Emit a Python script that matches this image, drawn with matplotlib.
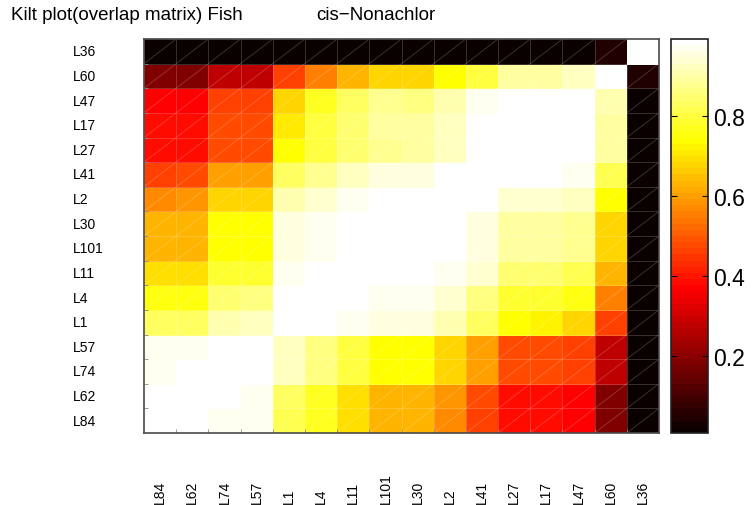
import numpy as np
import matplotlib
matplotlib.use("Agg")
import matplotlib.pyplot as plt
from matplotlib.colors import ListedColormap
from matplotlib.collections import LineCollection

plt.rcParams['font.family'] = ['Liberation Sans', 'DejaVu Sans']

# labels in order: left->right on x, bottom->top on y
labels = ["L84", "L62", "L74", "L57", "L1", "L4", "L11", "L101",
          "L30", "L2", "L41", "L27", "L17", "L47", "L60", "L36"]

# overlap matrix; row k is the row of label k (drawn bottom->top), columns follow labels
overlap = [
    [1.00, 1.00, 0.97, 0.97, 0.815, 0.77, 0.70, 0.635, 0.635, 0.57, 0.46, 0.39, 0.39, 0.367, 0.184, 0.01],  # L84
    [1.00, 1.00, 1.00, 0.97, 0.832, 0.77, 0.70, 0.635, 0.635, 0.58, 0.47, 0.39, 0.39, 0.367, 0.184, 0.01],  # L62
    [0.97, 1.00, 1.00, 1.00, 0.925, 0.863, 0.80, 0.745, 0.745, 0.68, 0.60, 0.48, 0.48, 0.46, 0.275, 0.01],  # L74
    [0.97, 0.97, 1.00, 1.00, 0.925, 0.863, 0.80, 0.745, 0.745, 0.68, 0.60, 0.48, 0.48, 0.46, 0.275, 0.01],  # L57
    [0.832, 0.832, 0.91, 0.925, 1.00, 1.00, 0.97, 0.955, 0.955, 0.91, 0.832, 0.745, 0.725, 0.68, 0.46, 0.01],  # L1
    [0.76, 0.76, 0.848, 0.863, 1.00, 1.00, 1.00, 0.97, 0.97, 0.94, 0.863, 0.78, 0.78, 0.76, 0.556, 0.01],  # L4
    [0.70, 0.70, 0.78, 0.78, 0.97, 1.00, 1.00, 1.00, 1.00, 0.97, 0.94, 0.848, 0.848, 0.82, 0.625, 0.01],  # L11
    [0.625, 0.625, 0.745, 0.745, 0.955, 0.97, 1.00, 1.00, 1.00, 1.00, 0.96, 0.894, 0.894, 0.879, 0.68, 0.01],  # L101
    [0.635, 0.635, 0.745, 0.745, 0.955, 0.97, 1.00, 1.00, 1.00, 1.00, 0.96, 0.90, 0.90, 0.879, 0.68, 0.01],  # L30
    [0.57, 0.58, 0.68, 0.68, 0.91, 0.94, 0.97, 1.00, 1.00, 1.00, 1.00, 0.94, 0.94, 0.925, 0.745, 0.01],  # L2
    [0.46, 0.47, 0.60, 0.60, 0.832, 0.879, 0.925, 0.955, 0.955, 1.00, 1.00, 1.00, 1.00, 0.97, 0.815, 0.01],  # L41
    [0.383, 0.383, 0.48, 0.48, 0.745, 0.80, 0.848, 0.879, 0.90, 0.93, 1.00, 1.00, 1.00, 1.00, 0.894, 0.01],  # L27
    [0.39, 0.39, 0.48, 0.48, 0.71, 0.80, 0.848, 0.894, 0.894, 0.925, 1.00, 1.00, 1.00, 1.00, 0.894, 0.01],  # L17
    [0.367, 0.367, 0.46, 0.46, 0.68, 0.77, 0.832, 0.879, 0.87, 0.91, 0.97, 1.00, 1.00, 1.00, 0.91, 0.01],  # L47
    [0.184, 0.184, 0.275, 0.275, 0.46, 0.556, 0.625, 0.68, 0.68, 0.745, 0.80, 0.894, 0.894, 0.925, 1.00, 0.046],  # L60
    [0.01, 0.01, 0.01, 0.01, 0.01, 0.01, 0.01, 0.01, 0.01, 0.01, 0.01, 0.01, 0.01, 0.01, 0.046, 1.00],  # L36
]

cbar_ticks = [0.2, 0.4, 0.6, 0.8]
title_left = "Kilt plot(overlap matrix) Fish"
title_right = "cis\u2212Nonachlor"

# MATLAB-style hot(64)
n = 64
n1 = 24
r = np.concatenate([np.arange(1, n1 + 1) / n1, np.ones(n - n1)])
g = np.concatenate([np.zeros(n1), np.arange(1, n1 + 1) / n1, np.ones(n - 2 * n1)])
b = np.concatenate([np.zeros(2 * n1), np.arange(1, n - 2 * n1 + 1) / (n - 2 * n1)])
hot64 = ListedColormap(np.column_stack([r, g, b]))

W, H = 754, 506
fig = plt.figure(figsize=(W / 100, H / 100), dpi=100)
ax = fig.add_axes([144 / W, 1 - 434 / H, 515 / W, 394 / H])
cax = fig.add_axes([671 / W, 1 - 434 / H, 37 / W, 394 / H])

M = np.array(overlap)
nr = len(labels)
mesh = ax.pcolormesh(np.arange(nr + 1), np.arange(nr + 1), M, cmap=hot64,
                     vmin=0.0065, vmax=0.994,
                     edgecolors=(1, 1, 1, 0.18), linewidth=0.6)

# faint diagonal lines through each cell (MATLAB rendering look)
segs = [[(j, i), (j + 1, i + 1)] for i in range(nr) for j in range(nr)]
ax.add_collection(LineCollection(segs, colors=[(1, 1, 1, 0.22)], linewidths=0.6))

ax.set_xlim(0, nr)
ax.set_ylim(0, nr)
ax.set_xticks(np.arange(1, nr))
ax.set_yticks(np.arange(1, nr))
ax.set_xticklabels([])
ax.set_yticklabels([])
ax.tick_params(direction='in', length=3, width=0.6, color='#888888')
for s in ax.spines.values():
    s.set_color('#4a4a4a')
    s.set_linewidth(1.2)

for k, lab in enumerate(labels):
    ax.text(-71 / 515, k + 0.5, lab, transform=ax.get_yaxis_transform(),
            ha='left', va='center', fontsize=10)
    ax.text(k + 0.5, -70.5 / 394, lab, transform=ax.get_xaxis_transform(),
            ha='center', va='bottom', rotation=90, fontsize=10)

cb = fig.colorbar(mesh, cax=cax, ticks=cbar_ticks)
cb.ax.tick_params(labelsize=16.5, direction='in', length=4, width=0.8,
                  left=True, right=True, pad=4)
cb.ax.set_yticklabels([f"{t:.1f}" for t in cbar_ticks])
cb.outline.set_edgecolor('#222222')
cb.outline.set_linewidth(1.2)

fig.text(11 / W, 1 - 19.5 / H, title_left, fontsize=13.5, va='baseline', ha='left')
fig.text(316 / W, 1 - 19.5 / H, title_right, fontsize=13.5, va='baseline', ha='left')

fig.savefig("out.png", dpi=100)
